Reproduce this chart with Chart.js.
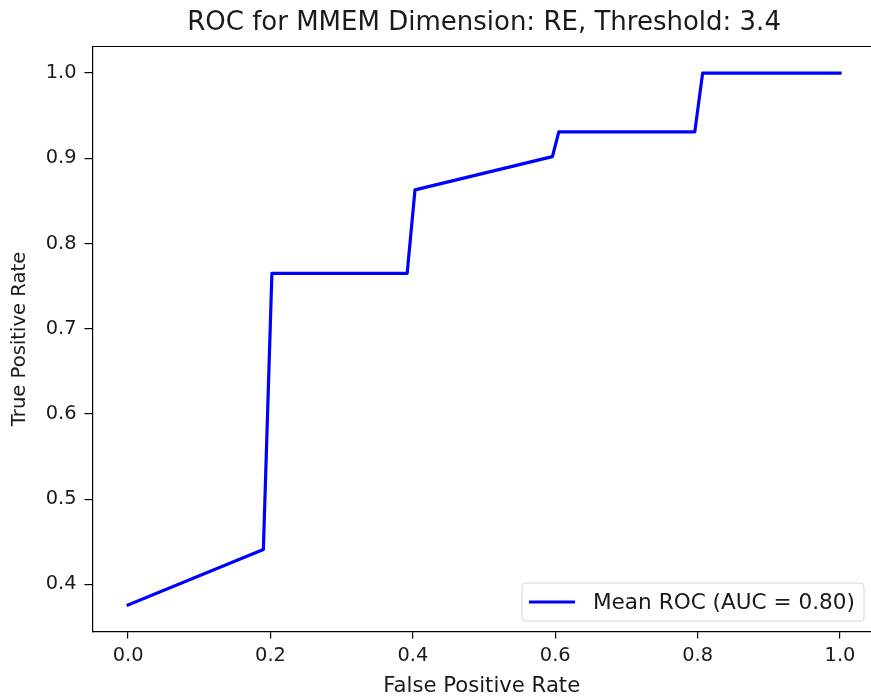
<!DOCTYPE html>
<html>
<head>
<meta charset="utf-8">
<script src="https://cdn.jsdelivr.net/npm/chart.js@4/dist/chart.umd.min.js"></script>
<style>
  html, body { margin: 0; padding: 0; background: #fff; overflow: hidden; }
  canvas { display: block; }
</style>
</head>
<body>
<canvas id="rocChart" width="871" height="698"></canvas>
<script>
// mean ROC curve points
const fpr = [0.0, 0.19, 0.202, 0.392, 0.403, 0.596, 0.605, 0.796, 0.807, 1.0];
const tpr = [0.376, 0.441, 0.765, 0.765, 0.863, 0.902, 0.931, 0.931, 1.0, 1.0];
const curveLabel = 'Mean ROC (AUC = 0.80)';
const titleText = 'ROC for MMEM Dimension: RE, Threshold: 3.4';
const xTitle = 'False Positive Rate';
const yTitle = 'True Positive Rate';
const xTicks = [0.0, 0.2, 0.4, 0.6, 0.8, 1.0];
const yTicks = [0.4, 0.5, 0.6, 0.7, 0.8, 0.9, 1.0];

const FONT = 'DejaVu Sans';
const TEXT = '#1a1a1a';

// pad data range by 5% like matplotlib autoscaling
function padded(arr) {
  const lo = Math.min(...arr), hi = Math.max(...arr);
  const m = (hi - lo) * 0.05;
  return [lo - m, hi + m];
}
const [xMin, xMax] = padded(fpr);
// the figure is cropped on the right, so the visible x range stops short of 1.05
const xMaxVisible = 1.0435;
const [yMin, yMax] = padded(tpr);

// top frame line (right side is cropped away) + title centred over the full axes
const framePlugin = {
  id: 'frame',
  afterDraw(chart) {
    const {ctx, chartArea: a} = chart;
    const xs = chart.scales.x;
    ctx.save();
    ctx.strokeStyle = '#000';
    ctx.lineWidth = 1.2;
    ctx.beginPath();
    ctx.moveTo(a.left, a.top);
    ctx.lineTo(a.right, a.top);
    ctx.stroke();
    const cx = (xs.getPixelForValue(xMin) + xs.getPixelForValue(xMax)) / 2;
    ctx.font = '26px "' + FONT + '"';
    ctx.fillStyle = TEXT;
    ctx.textAlign = 'center';
    ctx.textBaseline = 'middle';
    ctx.fillText(titleText, cx, 23);
    ctx.restore();
  }
};

// legend box in the lower right of the plot
const legendPlugin = {
  id: 'cornerLegend',
  afterDraw(chart) {
    const {ctx, chartArea: a} = chart;
    const ds = chart.data.datasets[0];
    ctx.save();
    ctx.font = '21.6px "' + FONT + '"';
    const tw = ctx.measureText(ds.label).width;
    const h = 38, padL = 7, lineLen = 46, gap = 18, padR = 9;
    const w = padL + lineLen + gap + tw + padR;
    const right = a.right - 7, bottom = a.bottom - 10.5;
    const x = right - w, y = bottom - h;
    ctx.beginPath();
    ctx.roundRect(x, y, w, h, 4);
    ctx.fillStyle = 'rgba(255,255,255,0.8)';
    ctx.fill();
    ctx.strokeStyle = '#d6d6d6';
    ctx.lineWidth = 1;
    ctx.stroke();
    const cy = y + h / 2;
    ctx.beginPath();
    ctx.moveTo(x + padL, cy);
    ctx.lineTo(x + padL + lineLen, cy);
    ctx.strokeStyle = ds.borderColor;
    ctx.lineWidth = ds.borderWidth;
    ctx.lineCap = 'butt';
    ctx.stroke();
    ctx.fillStyle = TEXT;
    ctx.textBaseline = 'middle';
    ctx.fillText(ds.label, x + padL + lineLen + gap, cy + 1);
    ctx.restore();
  }
};

const ctx = document.getElementById('rocChart');
new Chart(ctx, {
  type: 'line',
  data: {
    datasets: [{
      label: curveLabel,
      data: fpr.map((v, i) => ({x: v, y: tpr[i]})),
      borderColor: '#0000ff',
      borderWidth: 3.2,
      borderCapStyle: 'square',
      borderJoinStyle: 'round',
      pointRadius: 0,
      tension: 0,
      fill: false
    }]
  },
  options: {
    responsive: false,
    animation: false,
    devicePixelRatio: 1,
    // top room for the title, drawn by the frame plugin
    layout: { padding: { top: 46.5, left: 0, right: 0, bottom: 0 } },
    plugins: {
      legend: { display: false },
      tooltip: { enabled: false },
      title: { display: false }
    },
    scales: {
      x: {
        type: 'linear',
        min: xMin,
        max: xMaxVisible,
        afterFit(scale) { scale.height = 66.5; },
        afterBuildTicks(scale) { scale.ticks = xTicks.map(v => ({value: v})); },
        ticks: {
          color: TEXT,
          font: { family: FONT, size: 19.4 },
          padding: 6,
          maxRotation: 0,
          callback: v => Number(v).toFixed(1)
        },
        grid: { drawOnChartArea: false, drawTicks: true, tickLength: 7, color: '#000', lineWidth: 1.2 },
        border: { display: true, color: '#000', width: 1.2 },
        title: {
          display: true,
          text: xTitle,
          color: TEXT,
          font: { family: FONT, size: 21.2, lineHeight: 1 },
          padding: { top: 0, bottom: 1 }
        }
      },
      y: {
        type: 'linear',
        min: yMin,
        max: yMax,
        afterFit(scale) { scale.width = 92.5; },
        afterBuildTicks(scale) { scale.ticks = yTicks.map(v => ({value: v})); },
        ticks: {
          color: TEXT,
          font: { family: FONT, size: 19.4 },
          padding: 8,
          callback: v => Number(v).toFixed(1)
        },
        grid: { drawOnChartArea: false, drawTicks: true, tickLength: 8, color: '#000', lineWidth: 1.2 },
        border: { display: true, color: '#000', width: 1.2 },
        title: {
          display: true,
          text: yTitle,
          color: TEXT,
          font: { family: FONT, size: 19.6 },
          padding: { top: 8.2, bottom: 0 }
        }
      }
    }
  },
  plugins: [framePlugin, legendPlugin]
});
</script>
</body>
</html>
